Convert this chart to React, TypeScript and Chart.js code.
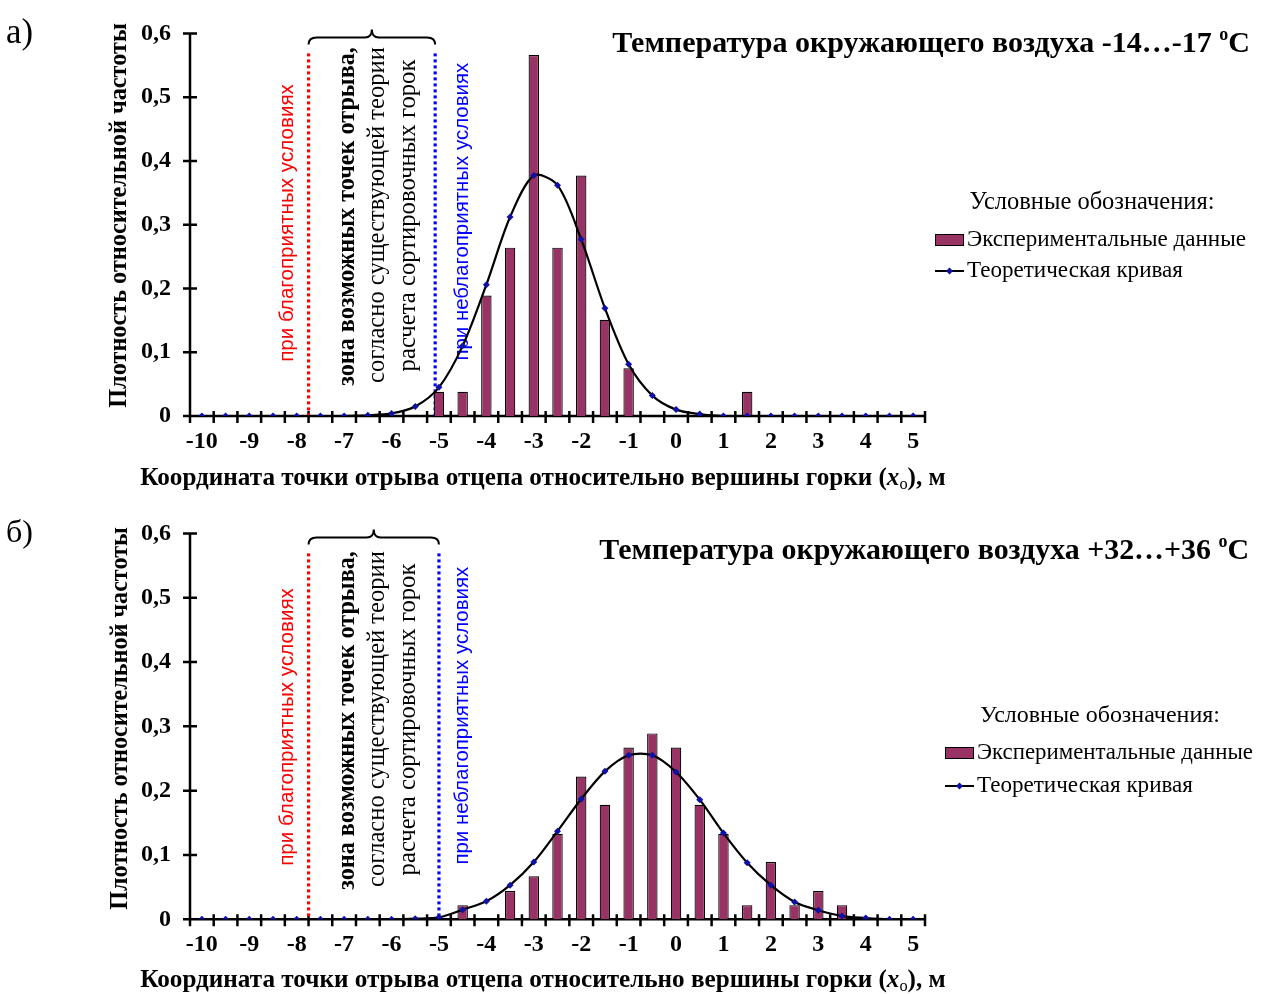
import React, { useEffect, useRef } from 'react';
import { Chart, registerables } from 'chart.js';

Chart.register(...registerables);

// ---------- data ----------
const xCategories = [-10, -9.5, -9, -8.5, -8, -7.5, -7, -6.5, -6, -5.5, -5, -4.5, -4, -3.5, -3, -2.5, -2, -1.5, -1, -0.5, 0, 0.5, 1, 1.5, 2, 2.5, 3, 3.5, 4, 4.5, 5];

const experimentalA = [0, 0, 0, 0, 0, 0, 0, 0, 0, 0, 0.038, 0.038, 0.189, 0.264, 0.566, 0.264, 0.377, 0.151, 0.075, 0, 0, 0, 0, 0.038, 0, 0, 0, 0, 0, 0, 0];
const theoreticalA = [0, 0, 0, 0, 0, 0, 0, 0.001, 0.004, 0.015, 0.045, 0.110, 0.206, 0.312, 0.377, 0.362, 0.277, 0.169, 0.081, 0.032, 0.010, 0.003, 0, 0, 0, 0, 0, 0, 0, 0, 0];

const experimentalB = [0, 0, 0, 0, 0, 0, 0, 0, 0, 0, 0, 0.022, 0, 0.044, 0.067, 0.133, 0.222, 0.178, 0.267, 0.289, 0.267, 0.178, 0.133, 0.022, 0.089, 0.022, 0.044, 0.022, 0, 0, 0];
const theoreticalB = [0, 0, 0, 0, 0, 0, 0, 0, 0, 0.001, 0.003, 0.015, 0.028, 0.053, 0.089, 0.137, 0.187, 0.230, 0.255, 0.255, 0.229, 0.186, 0.134, 0.088, 0.053, 0.027, 0.014, 0.005, 0.002, 0, 0];

// x positions (m) of the boundary lines
const favorableLimits = [-7.75, -7.75];
const unfavorableLimits = [-5.08, -5.0];

const panelLetters = ['а)', 'б)'];
const panelTitles = ['Температура окружающего воздуха -14…-17 ', 'Температура окружающего воздуха +32…+36 '];
const seriesNames = ['Экспериментальные данные', 'Теоретическая кривая'];
const legendHeading = 'Условные обозначения:';
const yAxisTitle = 'Плотность относительной частоты';
const xAxisTitle = 'Координата точки отрыва отцепа относительно вершины горки (';
const zoneTexts = [
  'при благоприятных условиях',
  'зона возможных точек отрыва,',
  'согласно существующей теории',
  'расчета сортировочных горок',
  'при неблагоприятных условиях',
];

// ---------- styling ----------
const SERIF = "'Liberation Serif', 'Times New Roman', serif";
const SANS = "'Liberation Sans', Arial, sans-serif";
const BAR_COLOR = '#993366';
const POINT_COLOR = '#1010a8';

type Seg = { t: string; fam: string; w?: string; st?: string; k?: number; dy?: number };

const fontOf = (s: Seg, size: number) => `${s.st ?? 'normal'} ${s.w ?? 'normal'} ${size * (s.k ?? 1)}px ${s.fam}`;

function segsWidth(ctx: CanvasRenderingContext2D, segs: Seg[], size: number) {
  let w = 0;
  for (const s of segs) {
    ctx.font = fontOf(s, size);
    w += ctx.measureText(s.t).width;
  }
  return w;
}

function drawSegs(
  ctx: CanvasRenderingContext2D,
  segs: Seg[],
  x: number,
  y: number,
  target: number,
  align: 'left' | 'center' | 'right',
  color: string,
  rotate = false,
  baseline: CanvasTextBaseline = 'middle'
) {
  const size = (20 * target) / segsWidth(ctx, segs, 20);
  const total = segsWidth(ctx, segs, size);
  ctx.save();
  ctx.translate(x, y);
  if (rotate) ctx.rotate(-Math.PI / 2);
  let cx = align === 'left' ? 0 : align === 'center' ? -total / 2 : -total;
  ctx.fillStyle = color;
  ctx.textBaseline = baseline;
  ctx.textAlign = 'left';
  for (const s of segs) {
    ctx.font = fontOf(s, size);
    ctx.fillText(s.t, cx, (s.dy ?? 0) * size);
    cx += ctx.measureText(s.t).width;
  }
  ctx.restore();
}

interface PanelCfg {
  idx: number;
  top: number;
  height: number;
  areaTop: number;
  areaBottom: number;
  experimental: number[];
  theoretical: number[];
  textDy: number;
  titleY: number;
  titleRight: number;
  titleW: number;
  legend: { headX: number; headY: number; headW: number; symL: number; symR: number; row1: number; row2: number; textL: number; w1: number; w2: number };
  yTitle: { x: number; y: number; len: number };
  xTitle: { y: number };
  letterBase: number;
}

const panels: PanelCfg[] = [
  {
    idx: 0,
    top: 0,
    height: 500,
    areaTop: 16.7,
    areaBottom: 416,
    experimental: experimentalA,
    theoretical: theoreticalA,
    textDy: 0,
    titleY: 44,
    titleRight: 1250,
    titleW: 638,
    legend: { headX: 1092, headY: 203, headW: 245, symL: 935, symR: 964, row1: 240, row2: 271, textL: 967, w1: 279, w2: 216 },
    yTitle: { x: 120, y: 215.5, len: 385 },
    xTitle: { y: 478 },
    letterBase: 43,
  },
  {
    idx: 1,
    top: 500,
    height: 494,
    areaTop: 24,
    areaBottom: 419.3,
    experimental: experimentalB,
    theoretical: theoreticalB,
    textDy: 4,
    titleY: 51,
    titleRight: 1249,
    titleW: 650,
    legend: { headX: 1100, headY: 216, headW: 240, symL: 945, symR: 974, row1: 253, row2: 286, textL: 977, w1: 276, w2: 216 },
    yTitle: { x: 121, y: 218.5, len: 383 },
    xTitle: { y: 480 },
    letterBase: 42,
  },
];

const catIndex = (v: number) => (v - xCategories[0]) / (xCategories[1] - xCategories[0]);

function makeDecor(cfg: PanelCfg) {
  return {
    id: 'decor' + cfg.idx,
    beforeDatasetsDraw(chart: any) {
      const { ctx, chartArea: a, scales } = chart;
      const xs = scales.x;
      const ys = scales.y;
      ctx.save();
      // axes
      ctx.strokeStyle = '#000';
      ctx.lineWidth = 2.5;
      ctx.beginPath();
      ctx.moveTo(a.left, a.top - 1);
      ctx.lineTo(a.left, a.bottom + 7);
      ctx.moveTo(a.left - 7, a.bottom);
      ctx.lineTo(a.right, a.bottom);
      for (let i = 0; i <= xCategories.length; i++) {
        const px = xs.getPixelForValue(i - 0.5);
        ctx.moveTo(px, a.bottom - 5);
        ctx.lineTo(px, a.bottom + 7);
      }
      for (const t of ys.ticks) {
        const py = ys.getPixelForValue(t.value);
        ctx.moveTo(a.left - 7, py);
        ctx.lineTo(a.left + 7, py);
      }
      ctx.stroke();

      // dotted boundary lines
      const redX = xs.getPixelForValue(catIndex(favorableLimits[cfg.idx]));
      const blueX = xs.getPixelForValue(catIndex(unfavorableLimits[cfg.idx]));
      const lineTop = a.top + 20;
      ctx.lineWidth = 3.2;
      ctx.setLineDash([3, 3]);
      ctx.strokeStyle = '#ff0000';
      ctx.beginPath();
      ctx.moveTo(redX, lineTop);
      ctx.lineTo(redX, a.bottom);
      ctx.stroke();
      ctx.strokeStyle = '#0000ff';
      ctx.beginPath();
      ctx.moveTo(blueX, lineTop);
      ctx.lineTo(blueX, a.bottom);
      ctx.stroke();
      ctx.setLineDash([]);

      // curly bracket
      const yb = a.top + 11;
      const yh = a.top + 4;
      const yt = a.top - 4;
      const xc = (redX + blueX) / 2;
      ctx.strokeStyle = '#000';
      ctx.lineWidth = 2;
      ctx.beginPath();
      ctx.moveTo(redX, yb);
      ctx.quadraticCurveTo(redX, yh, redX + 8, yh);
      ctx.lineTo(xc - 7, yh);
      ctx.quadraticCurveTo(xc, yh, xc, yt);
      ctx.quadraticCurveTo(xc, yh, xc + 7, yh);
      ctx.lineTo(blueX - 8, yh);
      ctx.quadraticCurveTo(blueX, yh, blueX, yb);
      ctx.stroke();

      // zone texts (rotated)
      const d = cfg.textDy;
      drawSegs(ctx, [{ t: zoneTexts[0], fam: SANS }], 287, 223 + d, 278, 'center', '#ff0000', true);
      drawSegs(ctx, [{ t: zoneTexts[1], fam: SERIF, w: 'bold' }], 348, 216.5 + d, 339, 'center', '#000', true);
      drawSegs(ctx, [{ t: zoneTexts[2], fam: SERIF }], 378, 215 + d, 336, 'center', '#000', true);
      drawSegs(ctx, [{ t: zoneTexts[3], fam: SERIF }], 408.5, 215.5 + d, 312, 'center', '#000', true);
      drawSegs(ctx, [{ t: zoneTexts[4], fam: SANS }], 462, 211.7 + d, 298, 'center', '#0000ff', true);
      ctx.restore();
    },
    afterDraw(chart: any) {
      const { ctx } = chart;
      ctx.save();
      // panel letter
      drawSegs(ctx, [{ t: panelLetters[cfg.idx], fam: SERIF }], 6, cfg.letterBase, 27, 'left', '#000', false, 'alphabetic');
      // title
      drawSegs(
        ctx,
        [
          { t: panelTitles[cfg.idx], fam: SERIF, w: 'bold' },
          { t: 'o', fam: SERIF, w: 'bold', k: 0.6, dy: -0.3 },
          { t: 'C', fam: SERIF, w: 'bold' },
        ],
        cfg.titleRight,
        cfg.titleY,
        cfg.titleW,
        'right',
        '#000'
      );
      // y title
      drawSegs(ctx, [{ t: yAxisTitle, fam: SERIF, w: 'bold' }], cfg.yTitle.x, cfg.yTitle.y, cfg.yTitle.len, 'center', '#000', true);
      // x title
      drawSegs(
        ctx,
        [
          { t: xAxisTitle, fam: SERIF, w: 'bold' },
          { t: 'x', fam: SERIF, w: 'bold', st: 'italic' },
          { t: 'о', fam: SERIF, w: 'normal', k: 0.65, dy: 0.25 },
          { t: '), м', fam: SERIF, w: 'bold' },
        ],
        543,
        cfg.xTitle.y,
        806,
        'center',
        '#000'
      );
      // legend
      const L = cfg.legend;
      drawSegs(ctx, [{ t: legendHeading, fam: SERIF }], L.headX, L.headY, L.headW, 'center', '#000');
      const barDs = chart.data.datasets[1];
      const lineDs = chart.data.datasets[0];
      ctx.fillStyle = barDs.backgroundColor;
      ctx.strokeStyle = '#000';
      ctx.lineWidth = 1;
      ctx.fillRect(L.symL, L.row1 - 5.5, L.symR - L.symL, 11);
      ctx.strokeRect(L.symL + 0.5, L.row1 - 5.5, L.symR - L.symL - 1, 11);
      drawSegs(ctx, [{ t: seriesNames[0], fam: SERIF }], L.textL, L.row1, L.w1, 'left', '#000');
      ctx.strokeStyle = lineDs.borderColor;
      ctx.lineWidth = 2;
      ctx.beginPath();
      ctx.moveTo(L.symL, L.row2);
      ctx.lineTo(L.symR, L.row2);
      ctx.stroke();
      const mx = (L.symL + L.symR) / 2;
      ctx.fillStyle = POINT_COLOR;
      ctx.beginPath();
      ctx.moveTo(mx, L.row2 - 3.5);
      ctx.lineTo(mx + 3.5, L.row2);
      ctx.lineTo(mx, L.row2 + 3.5);
      ctx.lineTo(mx - 3.5, L.row2);
      ctx.closePath();
      ctx.fill();
      drawSegs(ctx, [{ t: seriesNames[1], fam: SERIF }], L.textL, L.row2, L.w2, 'left', '#000');
      ctx.restore();
    },
  };
}

function Panel({ cfg }: { cfg: PanelCfg }) {
  const ref = useRef<HTMLCanvasElement>(null);
  useEffect(() => {
    const canvas = ref.current;
    if (!canvas) return;
    const tickFont = { family: SERIF, weight: 'bold' as const, size: 24 };
    const chart = new Chart(canvas, {
      type: 'bar',
      data: {
        labels: xCategories.map((v) => String(v)),
        datasets: [
          {
            type: 'line' as const,
            label: seriesNames[1],
            data: cfg.theoretical,
            borderColor: '#000000',
            borderWidth: 2.2,
            tension: 0.3,
            pointStyle: 'rectRot',
            pointRadius: 3.5,
            pointBackgroundColor: POINT_COLOR,
            pointBorderColor: POINT_COLOR,
            pointBorderWidth: 0,
            order: 0,
          } as any,
          {
            type: 'bar' as const,
            label: seriesNames[0],
            data: cfg.experimental,
            backgroundColor: BAR_COLOR,
            borderColor: '#000000',
            borderWidth: 1.2,
            barPercentage: 0.44,
            categoryPercentage: 1,
            order: 1,
          },
        ],
      },
      options: {
        responsive: false,
        animation: false,
        devicePixelRatio: 1,
        layout: { padding: { left: 0, right: 338, top: cfg.areaTop, bottom: 0 } },
        plugins: { legend: { display: false }, tooltip: { enabled: false }, title: { display: false } },
        scales: {
          x: {
            offset: true,
            grid: { display: false, drawTicks: false },
            border: { display: false },
            ticks: {
              autoSkip: false,
              maxRotation: 0,
              minRotation: 0,
              padding: 11,
              color: '#000',
              font: tickFont,
              callback: (_v: any, i: number) => (Number.isInteger(xCategories[i]) ? String(xCategories[i]) : ''),
            },
            afterFit: (s: any) => {
              s.height = cfg.height - cfg.areaBottom;
            },
          },
          y: {
            min: 0,
            max: 0.6,
            grid: { display: false, drawTicks: false },
            border: { display: false },
            ticks: {
              stepSize: 0.1,
              padding: 19,
              color: '#000',
              font: tickFont,
              callback: (v: any) => (Number(v) === 0 ? '0' : Number(v).toFixed(1).replace('.', ',')),
            },
            afterFit: (s: any) => {
              s.width = 190;
            },
          },
        },
      } as any,
      plugins: [makeDecor(cfg)],
    });
    return () => chart.destroy();
  }, [cfg]);
  return (
    <canvas
      ref={ref}
      width={1263}
      height={cfg.height}
      style={{ position: 'absolute', left: 0, top: cfg.top, display: 'block', width: 1263, height: cfg.height }}
    />
  );
}

export default function App() {
  return (
    <div style={{ position: 'absolute', left: 0, top: 0, width: 1263, height: 994, background: '#ffffff', overflow: 'hidden' }}>
      {panels.map((p) => (
        <Panel key={p.idx} cfg={p} />
      ))}
    </div>
  );
}
